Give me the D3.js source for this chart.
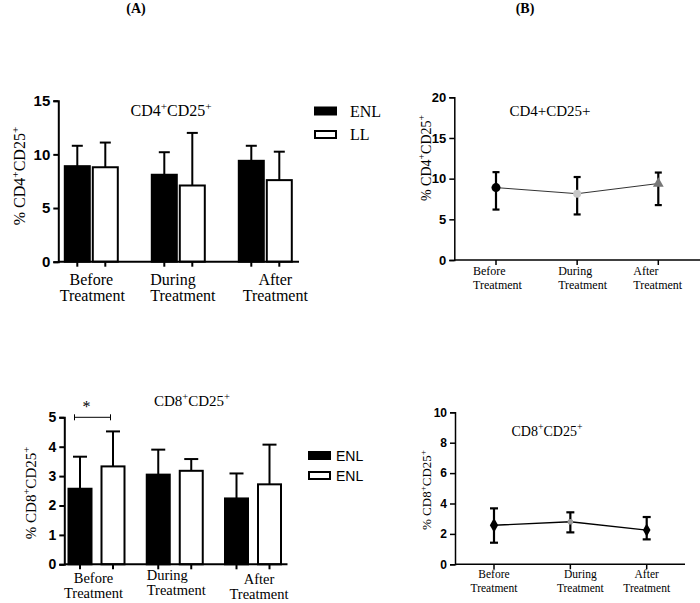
<!DOCTYPE html>
<html><head><meta charset="utf-8">
<script src="https://cdn.jsdelivr.net/npm/d3@7"></script>
<style>
html,body{margin:0;padding:0;background:#fff;}
svg{display:block;}
</style></head>
<body>
<svg id="chart" width="700" height="603"></svg>
<script>
// ---------- DATA ----------
const categories = ["Before Treatment", "During Treatment", "After Treatment"];
const seriesNamesA1 = ["ENL", "LL"];
const seriesNamesA2 = ["ENL", "ENL"];
// Panel A top: CD4+CD25+ (mean, upper SD)
const cd4ENL = [8.9, 8.1, 9.4];
const cd4ENLerr = [1.9, 2.1, 1.4];
const cd4LL = [8.8, 7.1, 7.6];
const cd4LLerr = [2.3, 4.9, 2.65];
// Panel A bottom: CD8+CD25+
const cd8ENL = [2.57, 3.05, 2.24];
const cd8ENLerr = [1.09, 0.85, 0.85];
const cd8LL = [3.33, 3.18, 2.72];
const cd8LLerr = [1.19, 0.40, 1.35];
// Panel B top: CD4+CD25+ means with error range
const cd4Mean = [8.9, 8.15, 9.4];
const cd4Low = [6.2, 5.6, 6.75];
const cd4High = [10.8, 10.2, 10.75];
// Panel B bottom: CD8+CD25+
const cd8Mean = [2.57, 2.8, 2.25];
const cd8Low = [1.42, 2.1, 1.64];
const cd8High = [3.68, 3.42, 3.11];
// Tick values
const ticksA1 = [0, 5, 10, 15];
const ticksA2 = [0, 1, 2, 3, 4, 5];
const ticksB1 = [0, 5, 10, 15, 20];
const ticksB2 = [0, 2, 4, 6, 8, 10];

// ---------- HELPERS ----------
const svg = d3.select("#chart");
const SERIF = "'Liberation Serif','Times New Roman',serif";
const SANS = "'Liberation Sans',Arial,sans-serif";

// text with superscripts: "^x" marks a superscript character
function richText(g, str, size) {
  const t = g.append("text").attr("font-family", SERIF).attr("font-size", size).attr("fill", "#000");
  let raised = false;
  let buf = "";
  const shift = size * 0.4;
  const flush = () => {
    if (!buf) return;
    const ts = t.append("tspan").text(buf);
    if (raised) { ts.attr("dy", shift); raised = false; }
    buf = "";
  };
  for (let i = 0; i < str.length; i++) {
    const c = str[i];
    if (c === "^") {
      flush();
      const ch = str[i + 1]; i++;
      const ts = t.append("tspan").attr("font-size", size * 0.7).text(ch);
      ts.attr("dy", raised ? 0 : -shift);
      raised = true;
    } else {
      buf += c;
    }
  }
  flush();
  return t;
}

function yAxis(g, y, x0, ticks, fs, sw) {
  const ax = g.append("g").attr("transform", `translate(${x0},0)`)
    .call(d3.axisLeft(y).tickValues(ticks).tickSizeOuter(0).tickSize(5).tickPadding(3).tickFormat(d3.format("d")));
  ax.select(".domain").attr("stroke", "#000").attr("stroke-width", sw);
  ax.selectAll(".tick line").attr("stroke", "#000").attr("stroke-width", sw);
  ax.selectAll(".tick text").attr("font-family", SANS).attr("font-weight", "bold")
    .attr("font-size", fs).attr("fill", "#000");
  return ax;
}

// ---------- PANEL LABELS ----------
svg.append("text").attr("x", 136).attr("y", 13).attr("text-anchor", "middle")
  .attr("font-family", SERIF).attr("font-weight", "bold").attr("font-size", 14).text("(A)");
svg.append("text").attr("x", 525).attr("y", 13).attr("text-anchor", "middle")
  .attr("font-family", SERIF).attr("font-weight", "bold").attr("font-size", 14).text("(B)");

// ---------- BAR CHART builder ----------
function barChart(o) {
  const g = svg.append("g");
  const y = d3.scaleLinear().domain([0, o.ymax]).range([o.y0, o.y1]);
  const xc = d3.scalePoint().domain(categories).range(o.centers);
  const rows = [];
  categories.forEach((c, i) => {
    rows.push({c, s: 0, v: o.s1[i], e: o.e1[i], x: xc(c) - o.gap / 2 - o.bw});
    rows.push({c, s: 1, v: o.s2[i], e: o.e2[i], x: xc(c) + o.gap / 2});
  });
  rows.forEach(r => {
    const cx = r.x + o.bw / 2;
    g.append("line").attr("x1", cx).attr("x2", cx).attr("y1", y(r.v)).attr("y2", y(r.v + r.e))
      .attr("stroke", "#000").attr("stroke-width", 2);
    g.append("line").attr("x1", cx - o.cap / 2).attr("x2", cx + o.cap / 2)
      .attr("y1", y(r.v + r.e)).attr("y2", y(r.v + r.e)).attr("stroke", "#000").attr("stroke-width", 2);
  });
  g.selectAll("rect.bar").data(rows).enter().append("rect")
    .attr("x", d => d.x).attr("width", o.bw)
    .attr("y", d => y(d.v)).attr("height", d => y(0) - y(d.v))
    .attr("fill", d => d.s === 0 ? "#000" : "#fff")
    .attr("stroke", "#000").attr("stroke-width", 2);
  g.append("line").attr("x1", o.xAxis0).attr("x2", o.xAxis1).attr("y1", y(0)).attr("y2", y(0))
    .attr("stroke", "#000").attr("stroke-width", 2);
  rows.forEach(r => {
    const cx = r.x + o.bw / 2;
    g.append("line").attr("x1", cx).attr("x2", cx).attr("y1", y(0)).attr("y2", y(0) + 5)
      .attr("stroke", "#000").attr("stroke-width", 2);
  });
  yAxis(g, y, o.xAxis0, o.ticks, o.tickFs, 2);
  categories.forEach((c, i) => {
    const [w1, w2] = c.split(" ");
    const lab = o.labels[i];
    g.append("text").attr("x", xc(c) + lab[0]).attr("y", o.labY[i][0]).attr("text-anchor", lab[1])
      .attr("font-family", SERIF).attr("font-size", o.labFs).text(w1);
    g.append("text").attr("x", xc(c) + lab[2]).attr("y", o.labY[i][1]).attr("text-anchor", lab[1])
      .attr("font-family", SERIF).attr("font-size", o.labFs).text(w2);
  });
  richText(g, o.title, o.titleFs).attr("x", o.titleX).attr("y", o.titleY).attr("text-anchor", "middle");
  richText(g, o.ytitle, o.ytitleFs).attr("text-anchor", "middle")
    .attr("transform", `translate(${o.ytX},${o.ytY}) rotate(-90)`);
  o.legendNames.forEach((n, i) => {
    g.append("rect").attr("x", o.leg.x).attr("y", o.leg.y + i * o.leg.dy).attr("width", o.leg.w).attr("height", o.leg.h)
      .attr("fill", i === 0 ? "#000" : "#fff").attr("stroke", "#000").attr("stroke-width", 2);
    g.append("text").attr("x", o.leg.tx).attr("y", o.leg.ty + i * o.leg.dy)
      .attr("font-family", o.leg.font).attr("font-size", o.leg.fs).text(n);
  });
  return {g, y, xc, rows};
}

// Top-left
barChart({
  ymax: 15, y0: 261.7, y1: 100.7, centers: [91.3, 265.3], bw: 25, gap: 3, cap: 11,
  s1: cd4ENL, e1: cd4ENLerr, s2: cd4LL, e2: cd4LLerr,
  xAxis0: 58.3, xAxis1: 299, ticks: ticksA1, tickFs: 15,
  labels: [[0, "middle", 1], [-28, "start", -28], [10, "middle", 10]],
  labY: [[285, 301], [285, 301], [285, 301]], labFs: 16,
  title: "CD4^+CD25^+", titleFs: 16, titleX: 171, titleY: 116,
  ytitle: "% CD4^+CD25^+", ytitleFs: 16, ytX: 25, ytY: 176,
  legendNames: seriesNamesA1,
  leg: {x: 315, y: 107.5, w: 21, h: 7, dy: 23.5, tx: 350, ty: 116.5, fs: 16, font: SERIF}
});

// Bottom-left
const bl = barChart({
  ymax: 5, y0: 564.3, y1: 417.3, centers: [96.5, 253], bw: 23, gap: 10, cap: 14,
  s1: cd8ENL, e1: cd8ENLerr, s2: cd8LL, e2: cd8LLerr,
  xAxis0: 64.3, xAxis1: 287.5, ticks: ticksA2, tickFs: 14,
  labels: [[-3, "middle", -3], [-28, "start", -28], [6, "middle", 6]],
  labY: [[583, 598], [580, 595], [584, 599]], labFs: 14.5,
  title: "CD8^+CD25^+", titleFs: 15, titleX: 192, titleY: 406,
  ytitle: "% CD8^+CD25^+", ytitleFs: 15, ytX: 36, ytY: 493,
  legendNames: seriesNamesA2,
  leg: {x: 309, y: 452, w: 21, h: 7, dy: 20, tx: 336, ty: 461, fs: 14, font: SANS}
});
{
  const r0 = bl.rows[0], r1 = bl.rows[1];
  const bx0 = r0.x + 6, bx1 = r1.x + 9, by = bl.y(5);
  bl.g.append("line").attr("x1", bx0).attr("x2", bx1).attr("y1", by).attr("y2", by).attr("stroke", "#000").attr("stroke-width", 1);
  [bx0, bx1].forEach(x => bl.g.append("line").attr("x1", x).attr("x2", x).attr("y1", by - 3).attr("y2", by + 3).attr("stroke", "#000").attr("stroke-width", 1));
  bl.g.append("text").attr("x", (bx0 + bx1) / 2 - 6).attr("y", by - 5).attr("text-anchor", "middle")
    .attr("font-family", SERIF).attr("font-size", 16).text("*");
}

// ---------- LINE CHART builder ----------
function lineChart(o) {
  const g = svg.append("g");
  const y = d3.scaleLinear().domain([0, o.ymax]).range([o.y0, o.y1]);
  const x = d3.scalePoint().domain(categories).range(o.range);
  g.append("line").attr("x1", o.xAxis0).attr("x2", o.xAxis1).attr("y1", y(0)).attr("y2", y(0))
    .attr("stroke", "#000").attr("stroke-width", 1.5);
  categories.forEach(c => g.append("line").attr("x1", x(c)).attr("x2", x(c)).attr("y1", y(0)).attr("y2", y(0) + 5)
    .attr("stroke", "#000").attr("stroke-width", 1.5));
  yAxis(g, y, o.xAxis0, o.ticks, o.tickFs, 1.5);
  const pts = categories.map((c, i) => ({c, m: o.mean[i], lo: o.low[i], hi: o.high[i], i}));
  g.append("path").datum(pts).attr("fill", "none").attr("stroke", o.lineColor).attr("stroke-width", o.lineW)
    .attr("d", d3.line().x(d => x(d.c)).y(d => y(d.m)));
  pts.forEach(d => {
    const cx = x(d.c);
    g.append("line").attr("x1", cx).attr("x2", cx).attr("y1", y(d.lo)).attr("y2", y(d.hi)).attr("stroke", "#000").attr("stroke-width", 2.2);
    [d.lo, d.hi].forEach(v => g.append("line").attr("x1", cx - o.cap / 2).attr("x2", cx + o.cap / 2)
      .attr("y1", y(v)).attr("y2", y(v)).attr("stroke", "#000").attr("stroke-width", 2.2));
  });
  pts.forEach(d => {
    const m = o.markers[d.i];
    g.append("path").attr("d", d3.symbol().type(m.type).size(m.size)())
      .attr("transform", `translate(${x(d.c)},${y(d.m)})`).attr("fill", m.fill);
  });
  categories.forEach((c, i) => {
    const [w1, w2] = c.split(" ");
    const lab = o.labels[i];
    g.append("text").attr("x", x(c) + lab[0]).attr("y", o.labY[0]).attr("text-anchor", lab[1])
      .attr("font-family", SERIF).attr("font-size", o.labFs).text(w1);
    g.append("text").attr("x", x(c) + lab[2]).attr("y", o.labY[1]).attr("text-anchor", lab[1])
      .attr("font-family", SERIF).attr("font-size", o.labFs).text(w2);
  });
  richText(g, o.title, o.titleFs).attr("x", o.titleX).attr("y", o.titleY).attr("text-anchor", "middle");
  richText(g, o.ytitle, o.ytitleFs).attr("text-anchor", "middle")
    .attr("transform", `translate(${o.ytX},${o.ytY}) rotate(-90)`);
}

// Top-right
lineChart({
  ymax: 20, y0: 260, y1: 97.3, range: [496, 658.3], xAxis0: 454.3, xAxis1: 700,
  ticks: ticksB1, tickFs: 13, cap: 7,
  mean: cd4Mean, low: cd4Low, high: cd4High, lineColor: "#333", lineW: 1,
  markers: [
    {type: d3.symbolCircle, size: 64, fill: "#000"},
    {type: d3.symbolCircle, size: 50, fill: "#c8c8c8"},
    {type: d3.symbolTriangle, size: 50, fill: "#777"}
  ],
  labels: [[-23, "start", -23], [-19, "start", -19], [-25, "start", -25]],
  labY: [275, 289], labFs: 12,
  title: "CD4+CD25+", titleFs: 15, titleX: 550, titleY: 116,
  ytitle: "% CD4^+CD25^+", ytitleFs: 14, ytX: 431, ytY: 158
});

// Bottom-right
lineChart({
  ymax: 10, y0: 564.3, y1: 412.3, range: [494, 646.7], xAxis0: 455, xAxis1: 685,
  ticks: ticksB2, tickFs: 12, cap: 8,
  mean: cd8Mean, low: cd8Low, high: cd8High, lineColor: "#000", lineW: 1.3,
  markers: [
    {type: d3.symbolDiamond, size: 60, fill: "#000"},
    {type: d3.symbolCircle, size: 25, fill: "#999"},
    {type: d3.symbolDiamond, size: 50, fill: "#000"}
  ],
  labels: [[0, "middle", 0], [10, "middle", 10], [0, "middle", 0]],
  labY: [578, 592], labFs: 11.5,
  title: "CD8^+CD25^+", titleFs: 14, titleX: 547, titleY: 436,
  ytitle: "% CD8^+CD25^+", ytitleFs: 13, ytX: 431, ytY: 490
});
</script>
</body></html>
